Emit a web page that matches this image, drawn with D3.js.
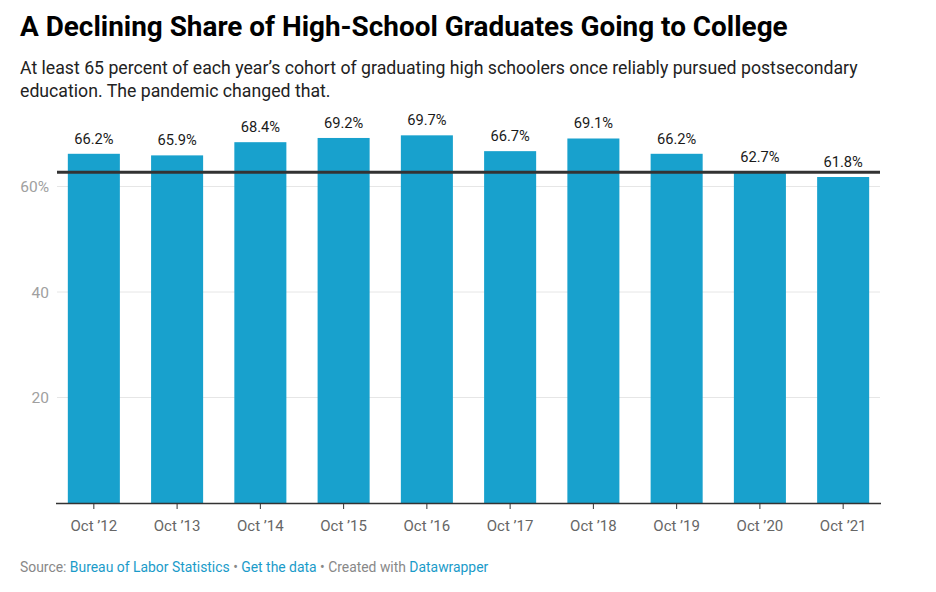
<!DOCTYPE html>
<html><head><meta charset="utf-8">
<script src="https://cdn.jsdelivr.net/npm/d3@7"></script>
<style>body{margin:0;background:#fff;font-family:Roboto,sans-serif;}</style>
</head><body><svg id="c" width="936" height="592"></svg>
<script>
const categories = ["Oct \u201912","Oct \u201913","Oct \u201914","Oct \u201915","Oct \u201916","Oct \u201917","Oct \u201918","Oct \u201919","Oct \u201920","Oct \u201921"];
const values = [66.2,65.9,68.4,69.2,69.7,66.7,69.1,66.2,62.7,61.8];
const yTicks = [20,40,60];
const referenceValue = 62.7;

const svg = d3.select("#c");
svg.append("text").attr("x",20).attr("y",36).attr("font-size",27.9).attr("font-weight",700).attr("fill","#000")
  .text("A Declining Share of High-School Graduates Going to College");
const sub = ["At least 65 percent of each year\u2019s cohort of graduating high schoolers once reliably pursued postsecondary","education. The pandemic changed that."];
sub.forEach((t,i)=>svg.append("text").attr("x",20).attr("y",74+i*22.5).attr("font-size",17.7).attr("fill","#222").text(t));

const x = d3.scaleBand().domain(categories).range([57,880]).paddingInner(0.375).paddingOuter(0.13);
const y = d3.scaleLinear().domain([0,60]).range([503,186.5]);

const g = svg.append("g");
g.selectAll("line.grid").data(yTicks).join("line").attr("x1",57).attr("x2",880)
  .attr("y1",d=>y(d)).attr("y2",d=>y(d)).attr("stroke","#e6e6e6").attr("stroke-width",1);
g.selectAll("text.yl").data(yTicks).join("text").attr("x",49).attr("y",d=>y(d)+5.5)
  .attr("text-anchor","end").attr("font-size",15.5).attr("fill","#a0a0a0").text(d=>d===60?"60%":d);

g.selectAll("rect.bar").data(values).join("rect")
  .attr("x",(d,i)=>x(categories[i])).attr("width",x.bandwidth())
  .attr("y",d=>y(d)).attr("height",d=>y(0)-y(d)).attr("fill","#18a1cd");

g.selectAll("text.vl").data(values).join("text")
  .attr("x",(d,i)=>x(categories[i])+x.bandwidth()/2).attr("y",d=>y(d)-10)
  .attr("text-anchor","middle").attr("font-size",14.7).attr("fill","#1a1a1a").text(d=>d.toFixed(1)+"%");

g.append("line").attr("x1",57).attr("x2",880).attr("y1",y(referenceValue)).attr("y2",y(referenceValue))
  .attr("stroke","#333").attr("stroke-width",3);

const ax = svg.append("g").attr("transform","translate(0,503)")
  .call(d3.axisBottom(x).tickSize(6).tickPadding(11).tickSizeOuter(0));
ax.select(".domain").attr("stroke","#333").attr("stroke-width",1.3).attr("d","M56,0.5H881");
ax.selectAll(".tick line").attr("stroke","#333");
ax.selectAll(".tick text").attr("font-family","Roboto,sans-serif").attr("font-size",15).attr("fill","#666");

const f = svg.append("text").attr("x",20).attr("y",572).attr("font-size",13.9);
f.append("tspan").attr("fill","#888").text("Source: ");
f.append("tspan").attr("fill","#1a9bc9").text("Bureau of Labor Statistics");
f.append("tspan").attr("fill","#888").text(" \u2022 ");
f.append("tspan").attr("fill","#1a9bc9").text("Get the data");
f.append("tspan").attr("fill","#888").text(" \u2022 Created with ");
f.append("tspan").attr("fill","#1a9bc9").text("Datawrapper");
</script></body></html>
